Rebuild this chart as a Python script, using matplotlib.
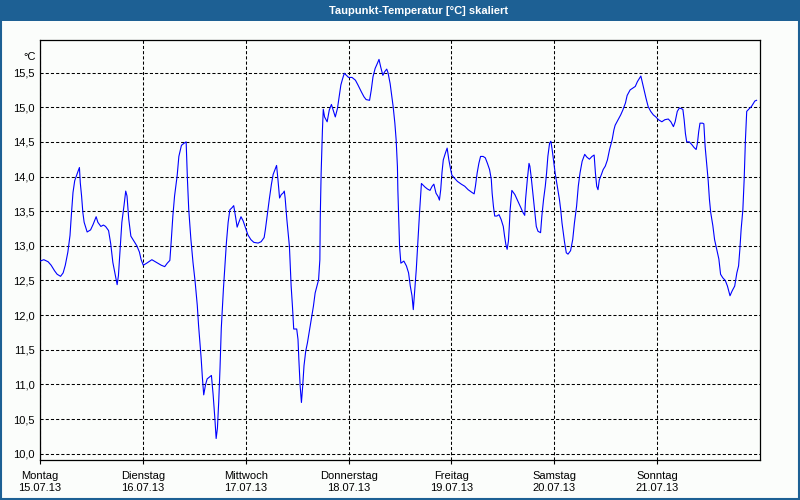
import matplotlib
matplotlib.use("Agg")
import matplotlib.pyplot as plt
from matplotlib.patches import Rectangle

# ---- data (hours since Monday 15.07.13 00:00, dew point in °C) ----
hours = [
    0.0, 0.9, 1.9, 2.6, 3.4, 4.0, 4.8, 5.4, 5.9, 6.5, 7.0, 7.3, 7.7, 8.1, 8.6, 8.9, 9.2, 9.4, 9.7,
    10.0, 10.3, 11.0, 11.8, 12.4, 13.1, 13.5, 14.2, 14.8, 15.3, 16.0, 16.5, 17.0, 17.6, 18.0, 18.3,
    18.7, 19.1, 19.6, 20.0, 20.3, 20.7, 21.2, 21.9, 22.6, 23.2, 23.6, 24.1, 24.9, 26.1, 27.5, 28.3,
    29.1, 29.7, 30.3, 30.6, 31.0, 31.4, 32.0, 32.4, 33.0, 33.6, 34.1, 34.4, 34.7, 35.2, 35.7, 36.2,
    36.7, 37.0, 37.3, 37.6, 37.9, 38.2, 38.6, 39.0, 39.6, 40.0, 40.4, 40.8, 41.1, 41.4, 41.7, 42.0,
    42.3, 42.8, 43.1, 43.5, 43.9, 44.3, 44.8, 45.2, 45.6, 46.0, 46.4, 46.9, 47.4, 47.9, 48.5, 49.2,
    49.9, 50.9, 51.6, 52.3, 52.6, 53.0, 53.5, 54.0, 54.4, 54.9, 55.2, 55.5, 55.9, 56.3, 56.7, 57.0,
    57.2, 57.6, 57.9, 58.2, 58.4, 58.6, 58.9, 59.2, 59.9, 60.2, 60.4, 60.7, 61.0, 61.3, 61.6, 62.0,
    62.4, 62.8, 63.3, 63.8, 64.2, 64.7, 65.0, 65.3, 65.4, 65.6, 65.9, 66.1, 66.4, 67.0, 67.5, 68.0,
    68.4, 68.9, 69.4, 69.8, 70.2, 70.6, 71.0, 71.5, 72.0, 72.8, 73.6, 74.2, 75.0, 75.6, 76.1, 76.9,
    77.3, 77.7, 78.2, 78.7, 79.1, 79.5, 80.0, 80.4, 80.9, 81.2, 81.7, 82.1, 82.4, 82.8, 83.1, 83.4,
    83.5, 83.7, 83.9, 84.2, 84.9, 85.5, 86.0, 86.4, 86.8, 87.1, 87.4, 87.8, 88.2, 88.6, 89.0, 89.8,
    90.4, 91.0, 91.5, 91.9, 92.4, 92.9, 93.2, 93.5, 93.8, 94.1, 94.6, 95.0, 95.4, 95.7, 96.1, 96.8,
    97.4, 98.3, 99.1, 99.9, 100.8, 101.3, 101.6, 102.0, 102.4, 102.8, 103.4, 103.9, 104.4, 104.9,
    105.3, 105.5, 105.8, 106.1, 106.6, 107.1, 107.6, 108.1, 108.4, 108.7, 109.0, 109.3, 109.5,
    109.7, 110.1, 110.8, 111.4, 112.2, 112.7, 113.1, 113.3, 113.7, 114.1, 114.3, 114.6, 115.0,
    115.4, 115.8, 116.2, 116.8, 117.1, 117.5, 117.9, 118.2, 118.5, 118.9, 119.2, 119.5, 119.8,
    120.2, 120.7, 121.2, 121.5, 121.8, 122.1, 122.4, 122.8, 123.2, 123.8, 124.3, 124.7, 125.2,
    125.6, 126.0, 126.5, 127.1, 127.6, 128.2, 128.8, 129.3, 129.6, 129.9, 130.2, 130.5, 131.0,
    131.4, 131.9, 132.4, 132.9, 133.5, 133.9, 134.2, 134.9, 135.5, 136.0, 136.6, 137.0, 137.7,
    138.4, 138.9, 139.4, 139.8, 140.2, 140.8, 141.4, 141.9, 142.5, 143.1, 143.7, 144.3, 145.1,
    145.8, 146.6, 147.2, 147.8, 148.2, 148.7, 149.2, 150.0, 150.3, 150.6, 150.9, 151.5, 152.1,
    152.6, 153.1, 153.4, 153.7, 154.0, 154.6, 154.9, 155.2, 155.6, 155.9, 156.2, 156.5, 157.0,
    157.4, 157.9, 158.4, 158.8, 159.3, 159.9, 160.4, 161.0, 161.5, 162.1, 162.6, 163.0, 163.3,
    163.6, 164.0, 164.3, 164.6, 164.9, 165.5, 166.0, 166.4, 166.8, 167.2,
]
dewpoint = [
    12.78, 12.80, 12.77, 12.72, 12.64, 12.59, 12.56, 12.61, 12.72, 12.91, 13.15, 13.43, 13.77, 13.94, 14.03, 14.08, 14.13, 13.91, 13.72,
    13.48, 13.34, 13.20, 13.23, 13.31, 13.42, 13.34, 13.28, 13.30, 13.28, 13.22, 13.03, 12.76, 12.57, 12.44, 12.57,
    12.95, 13.34, 13.58, 13.79, 13.72, 13.39, 13.14, 13.07, 13.00, 12.91, 12.80, 12.72, 12.75, 12.80, 12.75, 12.72,
    12.70, 12.75, 12.79, 13.05, 13.43, 13.72, 14.01, 14.29, 14.45, 14.48, 14.50, 13.96, 13.53, 13.10, 12.76, 12.48,
    12.14, 11.85, 11.61, 11.38, 11.09, 10.85, 10.99, 11.08, 11.11, 11.13, 10.85, 10.51, 10.22, 10.37, 10.75, 11.23,
    11.81, 12.38, 12.67, 13.05, 13.34, 13.52, 13.55, 13.58, 13.43, 13.27, 13.34, 13.42, 13.36, 13.27, 13.16, 13.09,
    13.05, 13.04, 13.06, 13.12, 13.24, 13.43, 13.67, 13.89, 14.03, 14.11, 14.16, 13.97, 13.69, 13.74, 13.76, 13.79,
    13.69, 13.38, 13.19, 12.99, 12.71, 12.42, 12.13, 11.80, 11.80, 11.65, 11.36, 10.98, 10.74, 10.98, 11.27, 11.48,
    11.60, 11.75, 11.94, 12.13, 12.32, 12.44, 12.51, 12.80, 13.43, 14.05, 14.67, 14.97, 14.86, 14.79, 14.96, 15.04,
    14.96, 14.86, 14.98, 15.15, 15.32, 15.41, 15.49, 15.46, 15.43, 15.43, 15.39, 15.32, 15.22, 15.15, 15.11, 15.10,
    15.25, 15.44, 15.56, 15.63, 15.69, 15.58, 15.46, 15.51, 15.55, 15.50, 15.34, 15.15, 15.01, 14.77, 14.53, 14.14,
    13.81, 13.38, 12.99, 12.75, 12.78, 12.71, 12.61, 12.42, 12.28, 12.08, 12.32, 12.66, 13.09, 13.52, 13.90, 13.85,
    13.82, 13.80, 13.86, 13.89, 13.76, 13.71, 13.66, 13.81, 14.06, 14.24, 14.34, 14.41, 14.24, 14.14, 14.02, 13.97,
    13.93, 13.89, 13.86, 13.81, 13.77, 13.75, 13.86, 14.05, 14.19, 14.29, 14.29, 14.27, 14.19, 14.10,
    13.96, 13.76, 13.57, 13.43, 13.43, 13.45, 13.38, 13.28, 13.14, 13.02, 12.95, 13.07, 13.28,
    13.52, 13.80, 13.74, 13.66, 13.55, 13.48, 13.44, 13.67, 13.95, 14.19, 14.15, 14.00, 13.76,
    13.52, 13.28, 13.21, 13.19, 13.43, 13.67, 13.86, 14.05, 14.29, 14.48, 14.51, 14.39, 14.24,
    14.05, 13.86, 13.67, 13.52, 13.33, 13.19, 13.05, 12.90, 12.88, 12.93, 13.09, 13.33, 13.57,
    13.86, 14.05, 14.22, 14.32, 14.28, 14.25, 14.29, 14.31, 14.05, 13.86, 13.81, 13.95, 14.03,
    14.10, 14.15, 14.24, 14.39, 14.53, 14.67, 14.74, 14.82, 14.89, 14.96, 15.06, 15.17, 15.25,
    15.28, 15.30, 15.37, 15.41, 15.45, 15.29, 15.13, 15.01, 14.94, 14.89, 14.86, 14.82, 14.79,
    14.82, 14.83, 14.79, 14.72, 14.79, 14.94, 14.99, 14.97, 14.82, 14.62, 14.50, 14.50, 14.46,
    14.42, 14.39, 14.48, 14.65, 14.77, 14.77, 14.76, 14.43, 14.15, 13.95, 13.67, 13.48, 13.29,
    13.09, 12.95, 12.81, 12.59, 12.54, 12.50, 12.42, 12.28, 12.35, 12.42, 12.61, 12.71, 12.95,
    13.24, 13.52, 13.95, 14.53, 14.94, 14.98, 15.01, 15.05, 15.09, 15.10,
]
day_names = ["Montag", "Dienstag", "Mittwoch", "Donnerstag", "Freitag", "Samstag", "Sonntag"]
day_dates = ["15.07.13", "16.07.13", "17.07.13", "18.07.13", "19.07.13", "20.07.13", "21.07.13"]
y_ticks = [10.0, 10.5, 11.0, 11.5, 12.0, 12.5, 13.0, 13.5, 14.0, 14.5, 15.0, 15.5]
title = "Taupunkt-Temperatur [°C] skaliert"
unit = "°C"

# ---- style ----
plt.rcParams['font.family'] = ['Liberation Sans', 'DejaVu Sans']
BAR = '#1d6094'
BG = '#fbfdfb'

fig = plt.figure(figsize=(8, 5), dpi=100, facecolor=BG)
ax = fig.add_axes([40 / 800, 1 - 460 / 500, 720 / 800, 420 / 500])
ax.set_facecolor(BG)

ax.plot(hours, dewpoint, color='#0000ff', lw=0.8, zorder=3)

ax.set_xlim(0, 168)
ax.set_ylim(9.91, 15.97)

ax.set_xticks([24 * i for i in range(len(day_names))])
ax.set_xticklabels([f"{n}\n{d}" for n, d in zip(day_names, day_dates)], fontsize=8)
ax.set_yticks(y_ticks)
ax.set_yticklabels([f"{v:.1f}".replace(".", ",") for v in y_ticks], fontsize=8)

ax.tick_params(axis='y', length=0, pad=4)
ax.tick_params(axis='x', length=3, width=0.8, pad=5, direction='out')

ax.grid(True, color='black', lw=0.75, linestyle=(0, (3, 2)), zorder=1)
for s in ax.spines.values():
    s.set_color('black')
    s.set_linewidth(0.9)

ax.text(-0.006, 15.72, unit, transform=ax.get_yaxis_transform(), ha='right', va='center', fontsize=8)

# title bar
fig.patches.append(Rectangle((0, 1 - 21 / 500), 1, 21 / 500, transform=fig.transFigure,
                             facecolor=BAR, edgecolor='none', zorder=0))
fig.text(419 / 800, 1 - 10.5 / 500, title, color='white', fontsize=8, fontweight='bold',
         ha='center', va='center')
# outer frame
fig.patches.append(Rectangle((0.001, 0.002), 0.998, 0.996, transform=fig.transFigure,
                             facecolor='none', edgecolor=BAR, lw=1.5, zorder=0))

fig.savefig("out.png", dpi=100, facecolor=BG)
